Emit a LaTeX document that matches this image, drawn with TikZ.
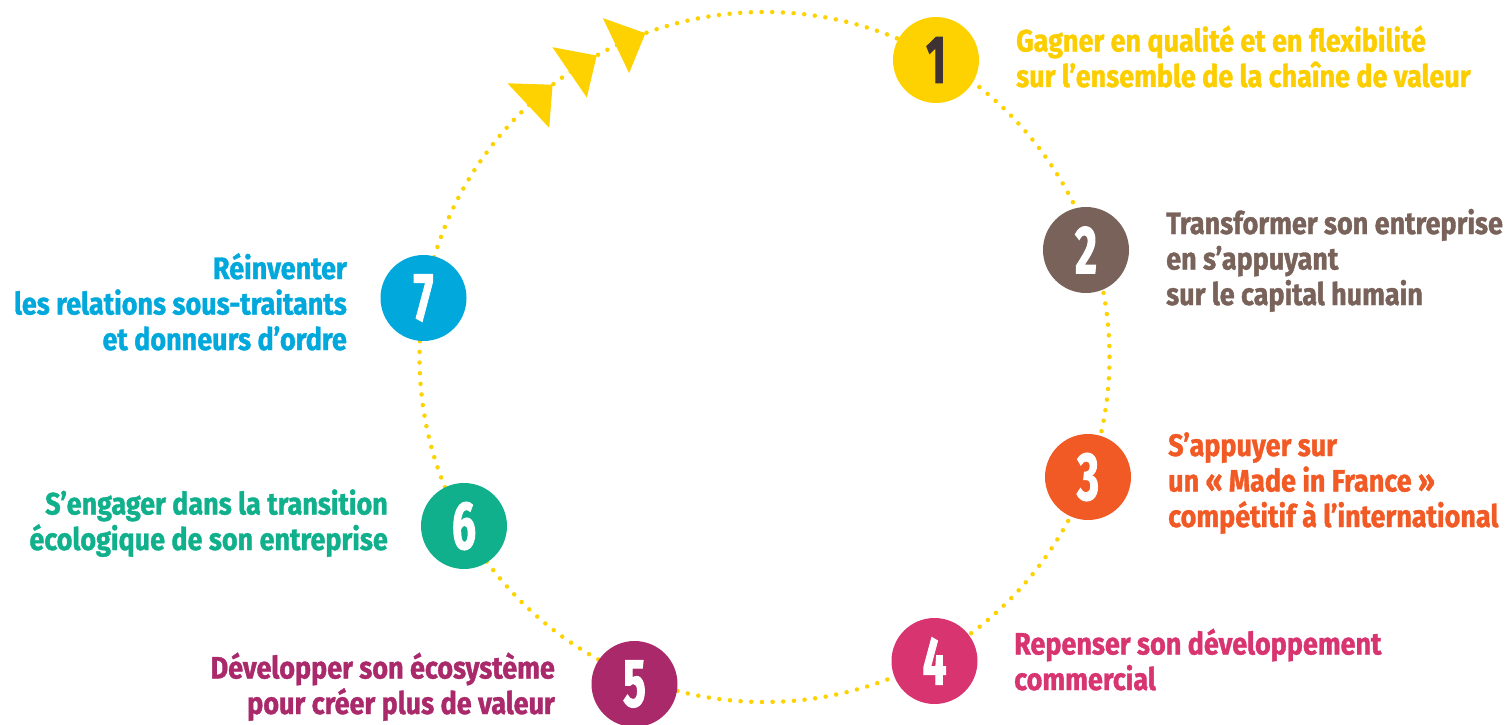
\documentclass[tikz,border=0pt]{standalone}
\usepackage{fontspec}
\newfontfamily\labelfont{Fira Sans}[FakeStretch=0.87, FakeBold=1.2]
\newfontfamily\digitfont{Fira Sans}[FakeStretch=0.62, FakeBold=1.5]
\definecolor{cyc}{HTML}{FDD200}
\definecolor{txtyellow}{HTML}{FCCE00}
\definecolor{numdark}{HTML}{3F3234}
\definecolor{cbrown}{HTML}{78625A}
\definecolor{corange}{HTML}{F15A24}
\definecolor{cpink}{HTML}{D8346F}
\definecolor{cpurple}{HTML}{A9296B}
\definecolor{cgreen}{HTML}{10B08C}
\definecolor{ccyan}{HTML}{00A8DC}
\begin{document}
\begin{tikzpicture}[x=1pt,y=-1pt,
  dotline/.style={draw=cyc, line width=4.5pt, line cap=round,
    dash pattern=on 0pt off 10.678pt},
  numdisc/.style={circle, minimum size=86pt, inner sep=0pt, fill=#1,
    text=white, font=\digitfont\bfseries\fontsize{68}{68}\selectfont},
  caption/.style={inner sep=0pt, text=#1,
    font=\labelfont\bfseries\fontsize{31}{35.5}\selectfont},
  capright/.style={caption=#1, align=left, anchor=base west},
  capleft/.style={caption=#1, align=right, anchor=base east},
  flowtip/.style={fill=cyc}]
\useasboundingbox (0,0) rectangle (1505,725);

% the cycle
\coordinate (c) at (764.5,357);
\draw[dotline] (c) circle[radius=345];

% direction marks along the cycle
\foreach \a in {127.9,119.1,110.2}{
  \fill[flowtip] ([shift={(c)}] -\a:345)
    -- ([shift={(c)}] -\a-5.3:375.5)
    -- ([shift={(c)}] -\a-5.3:314.5) -- cycle;
}

% numbered stages
\node[numdisc=cyc, text=numdark] (n1) at (936,60) {1};
\node[numdisc=cbrown]  (n2) at (1086,250) {2};
\node[numdisc=corange] (n3) at (1088,477) {3};
\node[numdisc=cpink]   (n4) at (934.5,661) {4};
\node[numdisc=cpurple] (n5) at (634.5,684) {5};
\node[numdisc=cgreen]  (n6) at (464,526) {6};
\node[numdisc=ccyan]   (n7) at (423.5,298) {7};

% captions (anchored on the baseline of their last line)
\node[capright=txtyellow] (t1) at (1016,87)
  {Gagner en qualité et en flexibilité\\sur l’ensemble de la chaîne de valeur};
\node[capright=cbrown] (t2) at (1166,305)
  {Transformer son entreprise\\en s’appuyant\\sur le capital humain};
\node[capright=corange] (t3) at (1168,527)
  {S’appuyer sur\\un «~Made in France~»\\compétitif à l’international};
\node[capright=cpink] (t4) at (1014,690)
  {Repenser son développement\\commercial};
\node[capleft=cpurple] (t5) at (555,714)
  {Développer son écosystème\\pour créer plus de valeur};
\node[capleft=cgreen] (t6) at (388,550)
  {S’engager dans la transition\\écologique de son entreprise};
\node[capleft=ccyan] (t7) at (347,350)
  {Réinventer\\les relations sous-traitants\\et donneurs d’ordre};
\end{tikzpicture}
\end{document}
